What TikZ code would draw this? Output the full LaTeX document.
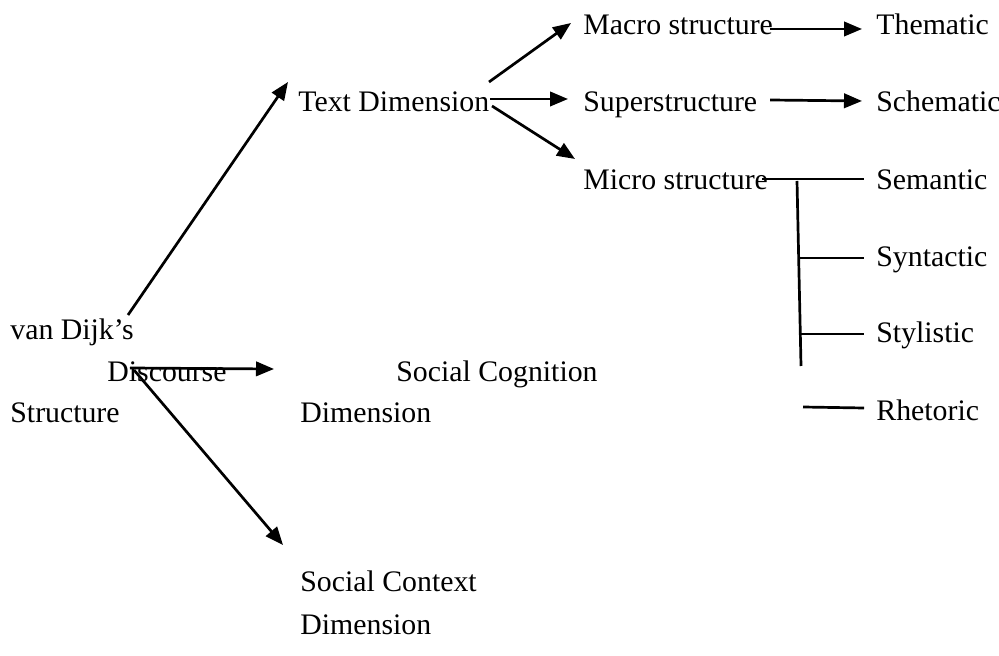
\documentclass[tikz,border=0pt]{standalone}
\usepackage{fontspec}
\setmainfont{Liberation Serif}
\usetikzlibrary{arrows.meta}
\begin{document}
\begin{tikzpicture}[x=0.5pt,y=-0.5pt,
  lbl/.style={anchor=base west,inner sep=0pt,font=\fontsize{14.9}{17}\selectfont},
  conn/.style={line width=1.35pt},
  arr/.style={conn,-{Triangle[length=9pt,width=7.2pt]}}]
\useasboundingbox (0,0) rectangle (999,656);
% labels
\node[lbl] (van) at (10,340) {van Dijk’s};
\node[lbl] (disc) at (107,382) {Discourse};
\node[lbl] (struc) at (10,423) {Structure};
\node[lbl] (text) at (298,112) {Text Dimension};
\node[lbl] (scog) at (396,382) {Social Cognition};
\node[lbl] (scogd) at (300,423) {Dimension};
\node[lbl] (sctx) at (300,591) {Social Context};
\node[lbl] (sctxd) at (300,634) {Dimension};
\node[lbl] (macro) at (583,35) {Macro structure};
\node[lbl] (super) at (583,112) {Superstructure};
\node[lbl] (micro) at (583,190) {Micro structure};
\node[lbl] (them) at (876,35) {Thematic};
\node[lbl] (schem) at (876,112) {Schematic};
\node[lbl] (sem) at (876,190) {Semantic};
\node[lbl] (syn) at (876,267) {Syntactic};
\node[lbl] (sty) at (876,343) {Stylistic};
\node[lbl] (rhet) at (876,421) {Rhetoric};
% connector end points
\coordinate (a1s) at (128,315);
\coordinate (a1e) at (288,82);
\coordinate (a2s) at (130,368);
\coordinate (a2e) at (274,369);
\coordinate (a3s) at (134,370);
\coordinate (a3e) at (283,545);
\coordinate (b1s) at (489,82);
\coordinate (b1e) at (571,23);
\coordinate (b2s) at (490,99);
\coordinate (b2e) at (568,99);
\coordinate (b3s) at (492,106);
\coordinate (b3e) at (575,159);
\coordinate (c1s) at (770,29);
\coordinate (c1e) at (862,29);
\coordinate (c2s) at (770,100);
\coordinate (c2e) at (862,101);
\coordinate (m1s) at (762,179);
\coordinate (m1e) at (864,179);
\coordinate (vt) at (797,181);
\coordinate (vb) at (801,366);
\coordinate (s2s) at (799,258);
\coordinate (s2e) at (864,258);
\coordinate (s3s) at (800,334);
\coordinate (s3e) at (864,334);
\coordinate (s4s) at (803,407);
\coordinate (s4e) at (864,408);
% arrows
\draw[arr] (a1s) -- (a1e);
\draw[arr] (a2s) -- (a2e);
\draw[arr] (a3s) -- (a3e);
\draw[arr] (b1s) -- (b1e);
\draw[arr] (b2s) -- (b2e);
\draw[arr] (b3s) -- (b3e);
\draw[arr] (c1s) -- (c1e);
\draw[arr] (c2s) -- (c2e);
\draw[conn] (m1s) -- (m1e);
\draw[conn] (vt) -- (vb);
\draw[conn] (s2s) -- (s2e);
\draw[conn] (s3s) -- (s3e);
\draw[conn] (s4s) -- (s4e);
\end{tikzpicture}
\end{document}
